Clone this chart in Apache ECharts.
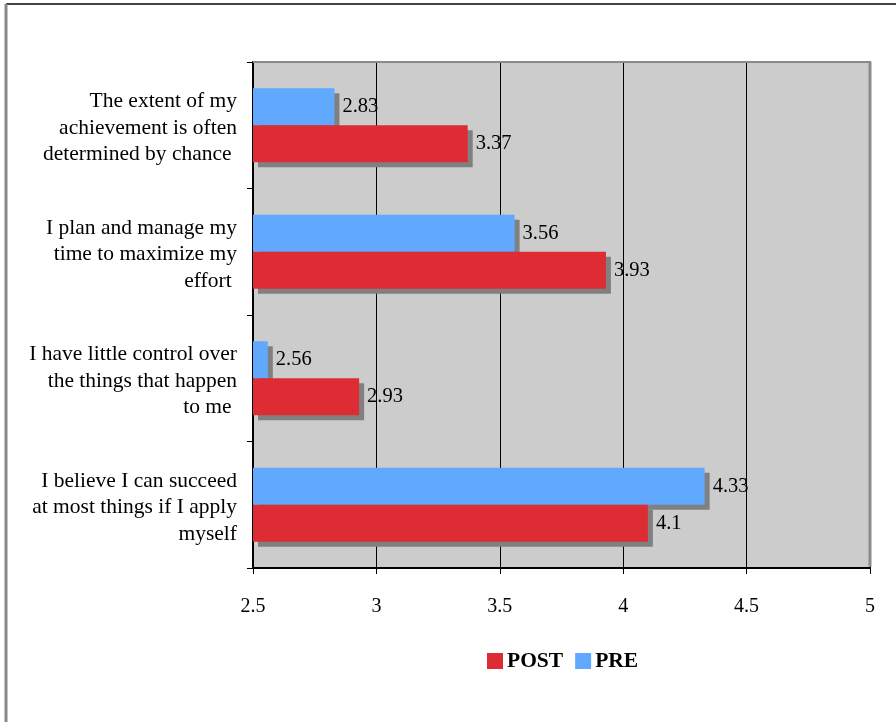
<!DOCTYPE html>
<html>
<head>
<meta charset="utf-8">
<script src="https://cdn.jsdelivr.net/npm/echarts@6/dist/echarts.min.js"></script>
<style>
  html, body { margin: 0; padding: 0; background: #ffffff; }
  #chart { width: 896px; height: 722px; }
</style>
</head>
<body>
<div id="chart"></div>
<script>
// Survey statements, listed bottom to top along the category axis
const statements = [
  'I believe I can succeed\nat most things if I apply\nmyself',
  'I have little control over\nthe things that happen\nto me ',
  'I plan and manage my\ntime to maximize my\neffort ',
  'The extent of my\nachievement is often\ndetermined by chance '
];
// Mean ratings before and after
const preScores = [4.33, 2.56, 3.56, 2.83];
const postScores = [4.1, 2.93, 3.93, 3.37];
// Value axis range and step
const axisMin = 2.5;
const axisMax = 5;
const axisStep = 0.5;

const serif = '"Liberation Serif", "Times New Roman", serif';

const chart = echarts.init(document.getElementById('chart'), null, { renderer: 'canvas' });

function barSeries(name, values, color, z) {
  return {
    name: name,
    type: 'bar',
    data: values,
    barWidth: 37,
    barGap: '0%',
    z: z,
    itemStyle: {
      color: color,
      shadowColor: '#808080',
      shadowBlur: 0,
      shadowOffsetX: 5,
      shadowOffsetY: 5
    },
    label: {
      show: true,
      position: 'right',
      distance: 8,
      color: '#000',
      fontFamily: serif,
      fontSize: 20.5
    }
  };
}

chart.setOption({
  animation: false,
  backgroundColor: '#ffffff',
  grid: {
    left: 253,
    right: 26,
    top: 62,
    bottom: 154,
    show: true,
    backgroundColor: '#cccccc',
    borderWidth: 0
  },
  legend: {
    left: 487,
    top: 650,
    padding: 0,
    itemWidth: 16,
    itemHeight: 16,
    itemGap: 12,
    icon: 'rect',
    textStyle: { fontFamily: serif, fontSize: 21.5, fontWeight: 'bold', color: '#000', padding: [2, 0, 0, -1] },
    data: ['POST', 'PRE']
  },
  xAxis: {
    type: 'value',
    min: axisMin,
    max: axisMax,
    interval: axisStep,
    axisLine: { show: true, onZero: false, lineStyle: { color: '#000', width: 2 } },
    axisTick: { show: true, length: 6, lineStyle: { color: '#000', width: 1 } },
    axisLabel: {
      margin: 29,
      color: '#000',
      fontFamily: serif,
      fontSize: 20,
      formatter: function (v) { return String(v); }
    },
    splitLine: { show: true, lineStyle: { color: '#000', width: 1 } }
  },
  yAxis: {
    type: 'category',
    data: statements,
    axisLine: { show: true, lineStyle: { color: '#000', width: 2 } },
    axisTick: { show: true, length: 6, lineStyle: { color: '#000', width: 1 } },
    axisLabel: {
      margin: 16,
      color: '#000',
      fontFamily: serif,
      fontSize: 21.5,
      lineHeight: 26.5,
      align: 'right',
      // a thin spacer line on top nudges the wrapped text block slightly lower
      formatter: function (v) {
        return '{s| }\n' + v.split('\n').map(function (l) { return '{t|' + l + '}'; }).join('\n');
      },
      rich: {
        s: { fontSize: 1, lineHeight: 6 },
        t: { fontFamily: serif, fontSize: 21.5, lineHeight: 26.5, color: '#000' }
      }
    },
    splitLine: { show: false }
  },
  series: [
    barSeries('PRE', preScores, '#61a8ff', 2),
    barSeries('POST', postScores, '#dd2c33', 3)
  ],
  graphic: [
    // outer frame: top and left edges
    { type: 'line', z: 100, shape: { x1: 6, y1: 4, x2: 896, y2: 4 }, style: { stroke: '#444', lineWidth: 2 } },
    { type: 'line', z: 100, shape: { x1: 6, y1: 4, x2: 6, y2: 722 }, style: { stroke: '#888', lineWidth: 3 } },
    // plot area frame: top and right edges
    { type: 'line', z: 100, shape: { x1: 253, y1: 62, x2: 871, y2: 62 }, style: { stroke: '#8a8a8a', lineWidth: 2 } },
    { type: 'line', z: 100, shape: { x1: 870, y1: 62, x2: 870, y2: 567 }, style: { stroke: '#8a8a8a', lineWidth: 3 } }
  ]
});
</script>
</body>
</html>
